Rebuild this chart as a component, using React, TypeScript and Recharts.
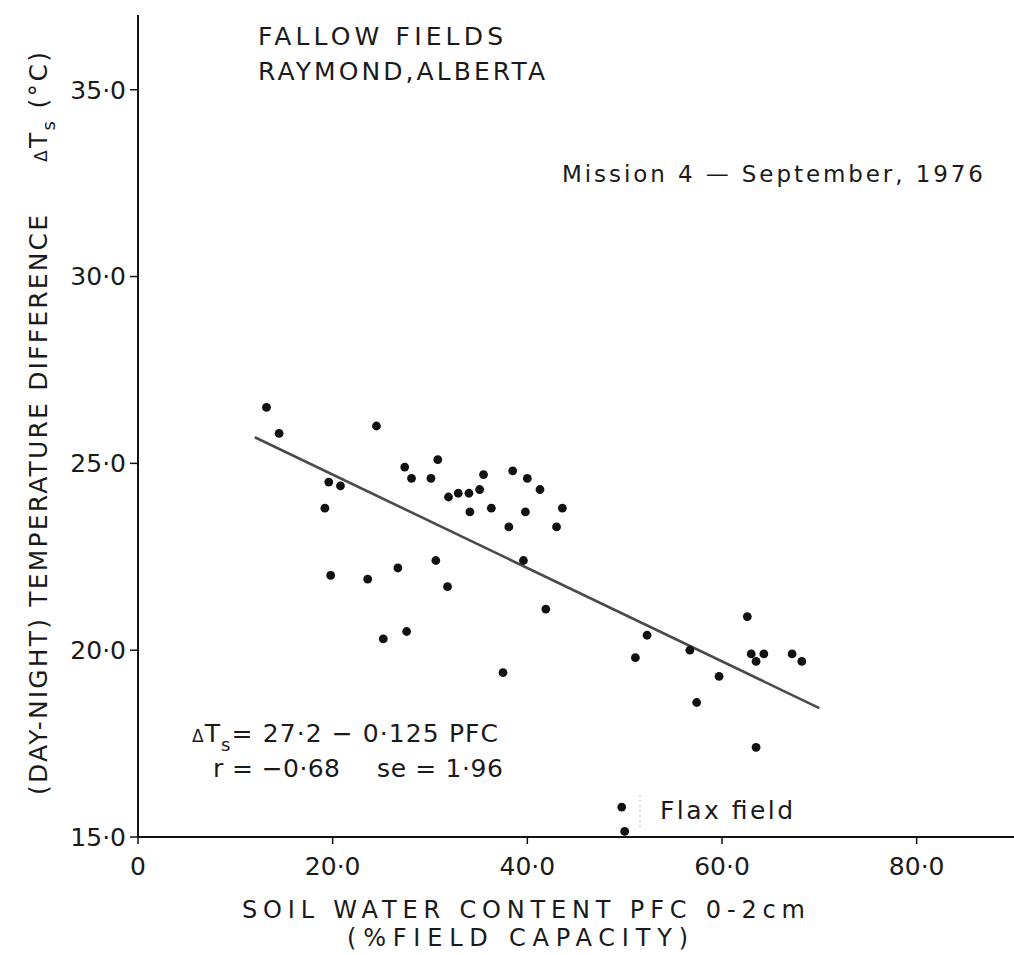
import { ScatterChart, Scatter, XAxis, YAxis } from "recharts"

// soil water content (% field capacity)
const pfc = [
  13.2, 14.5, 19.2, 19.6, 20.8, 19.8, 24.5, 23.6, 25.2, 26.7, 27.4, 27.6, 28.1, 30.1, 30.6, 30.8,
  31.8, 31.9, 32.9, 34.0, 34.1, 35.1, 35.5, 36.3, 37.5, 38.1, 38.5, 39.6, 40.0, 39.8, 41.3, 41.9,
  43.0, 43.6, 51.1, 52.3, 56.7, 57.4, 59.7, 62.6, 63.0, 63.5, 64.3, 63.5, 67.2, 68.2,
]
// day-night temperature difference (°C)
const deltaTs = [
  26.5, 25.8, 23.8, 24.5, 24.4, 22.0, 26.0, 21.9, 20.3, 22.2, 24.9, 20.5, 24.6, 24.6, 22.4, 25.1,
  21.7, 24.1, 24.2, 24.2, 23.7, 24.3, 24.7, 23.8, 19.4, 23.3, 24.8, 22.4, 24.6, 23.7, 24.3, 21.1,
  23.3, 23.8, 19.8, 20.4, 20.0, 18.6, 19.3, 20.9, 19.9, 19.7, 19.9, 17.4, 19.9, 19.7,
]
// flax field points sitting on the x axis
const flaxPfc = [49.7, 50.0]
const flaxDelta = [15.8, 15.15]
// regression line end points
const fitPfc = [12, 70]
const fitDelta = [25.7, 18.45]

const xTicks = [0, 20, 40, 60, 80]
const yTicks = [15, 20, 25, 30, 35]

const FONT = "'DejaVu Sans', sans-serif"
const INK = "#1a1a1a"

const points = pfc.map((x, i) => ({ x, y: deltaTs[i] }))
const flax = flaxPfc.map((x, i) => ({ x, y: flaxDelta[i] }))
const fit = fitPfc.map((x, i) => ({ x, y: fitDelta[i] }))

const fmt = (v: number) => (v === 0 ? "0" : v.toFixed(1).replace(".", "·"))

const Dot = (props: any) => <circle cx={props.cx} cy={props.cy} r={4.4} fill="#111" />

export default function App() {
  return (
    <div style={{ position: "relative", width: 1014, height: 955, background: "#fff" }}>
      <style>{`body{margin:0}`}</style>
      <ScatterChart width={1014} height={955} margin={{ top: 15, right: 0, bottom: 0, left: 0 }}>
        <XAxis
          type="number"
          dataKey="x"
          domain={[0, 90]}
          ticks={xTicks}
          interval={0}
          allowDataOverflow
          tickFormatter={fmt}
          height={118}
          tickSize={7}
          tickMargin={13}
          tick={{ fill: INK, fontSize: 25, fontFamily: FONT }}
          axisLine={{ stroke: "#111", strokeWidth: 2 }}
          tickLine={{ stroke: "#111", strokeWidth: 1.5 }}
        />
        <YAxis
          type="number"
          dataKey="y"
          domain={[15, 37]}
          ticks={yTicks}
          interval={0}
          allowDataOverflow
          tickFormatter={fmt}
          width={138}
          tickSize={8}
          tickMargin={4}
          tick={{ fill: INK, fontSize: 25, fontFamily: FONT }}
          axisLine={{ stroke: "#111", strokeWidth: 2 }}
          tickLine={{ stroke: "#111", strokeWidth: 1.5 }}
        />
        <Scatter
          data={fit}
          line={{ stroke: "#4a4a4a", strokeWidth: 2.6 }}
          shape={() => <g />}
          legendType="none"
          isAnimationActive={false}
        />
        <Scatter data={points} shape={Dot} isAnimationActive={false} />
        <Scatter data={flax} shape={Dot} isAnimationActive={false} />
      </ScatterChart>

      <svg
        width={1014}
        height={955}
        style={{ position: "absolute", left: 0, top: 0, pointerEvents: "none" }}
        fontFamily={FONT}
        fill={INK}
      >
        <text x={258} y={45} fontSize={25} textLength={245} lengthAdjust="spacing">
          FALLOW FIELDS
        </text>
        <text x={258} y={80} fontSize={25} textLength={287} lengthAdjust="spacing">
          RAYMOND,ALBERTA
        </text>
        <text x={562} y={182} fontSize={23} textLength={421} lengthAdjust="spacing">
          Mission 4 — September, 1976
        </text>

        <text x={192} y={742} fontSize={25} textLength={306} lengthAdjust="spacing">
          <tspan fontSize={17}>Δ</tspan>
          <tspan>T</tspan>
          <tspan fontSize={18} dy={9}>s</tspan>
          <tspan dy={-9}>= 27·2 − 0·125 PFC</tspan>
        </text>
        <text x={213} y={777} fontSize={25} textLength={127} lengthAdjust="spacing">
          r = −0·68
        </text>
        <text x={377} y={777} fontSize={25} textLength={126} lengthAdjust="spacing">
          se = 1·96
        </text>

        <line x1={640} y1={795} x2={640} y2={830} stroke="#bbb" strokeWidth={1} strokeDasharray="2 3" />
        <text x={660} y={819} fontSize={25} textLength={133} lengthAdjust="spacing">
          Flax field
        </text>

        <text x={242} y={918} fontSize={24} textLength={563} lengthAdjust="spacing">
          SOIL WATER CONTENT PFC 0-2cm
        </text>
        <text x={347} y={946} fontSize={24} textLength={341} lengthAdjust="spacing">
          (%FIELD CAPACITY)
        </text>

        <g transform="translate(47, 795) rotate(-90)">
          <text x={0} y={0} fontSize={25} textLength={580} lengthAdjust="spacing">
            (DAY-NIGHT) TEMPERATURE DIFFERENCE
          </text>
          <text x={633} y={0} fontSize={25} textLength={110} lengthAdjust="spacing">
            <tspan fontSize={17}>Δ</tspan>
            <tspan>T</tspan>
            <tspan fontSize={18} dy={8}>s</tspan>
            <tspan dy={-8}> (°C)</tspan>
          </text>
        </g>
      </svg>
    </div>
  )
}
